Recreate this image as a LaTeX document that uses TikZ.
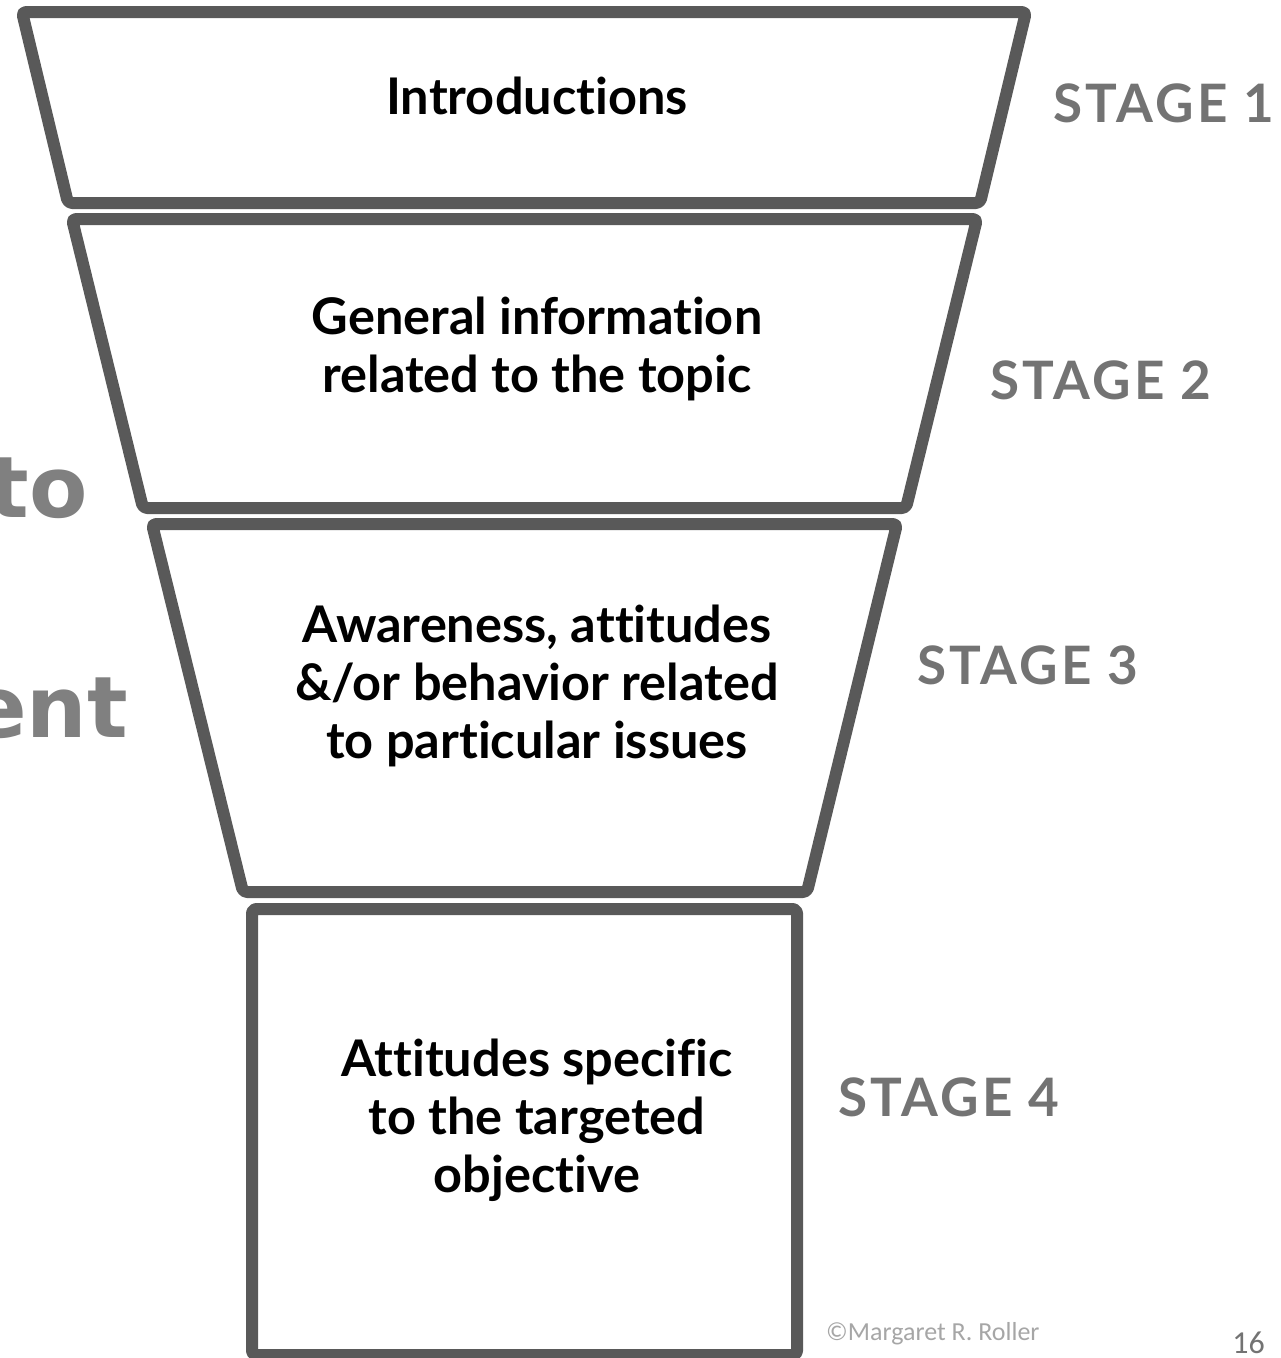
\documentclass[tikz,border=0pt]{standalone}
\usepackage{fontspec}
\setmainfont{Lato}[Ligatures=NoCommon]
\newfontfamily\stagefont{Lato}[Ligatures=NoCommon, LetterSpace=6]
\newfontfamily\sidefont{DejaVu Sans}
\newfontfamily\notefont{Carlito}
\usepackage{tikz}
\definecolor{funnelgray}{HTML}{595959}
\definecolor{stagegray}{HTML}{737373}
\definecolor{sidegray}{HTML}{808080}
\definecolor{notegray}{HTML}{A6A6A6}

\begin{document}
\begin{tikzpicture}[x=1pt, y=-1pt,
  funnel/.style={draw=funnelgray, line width=12pt, rounded corners=4pt, line join=round},
  steptext/.style={align=center, inner sep=0pt, font=\bfseries\fontsize{50.5}{58}\selectfont},
  stagelabel/.style={anchor=west, inner sep=0pt, text=stagegray, font=\stagefont\bfseries\fontsize{53}{60}\selectfont},
  sidetext/.style={anchor=base east, inner sep=0pt, text=sidegray, font=\sidefont\bfseries\fontsize{85}{90}\selectfont}
]
\useasboundingbox (0,0) rectangle (1281,1358);
\clip (0,0) rectangle (1281,1358);

% Funnel, top to bottom
\draw[funnel] (22,12) -- (1026,12) -- (980,203) -- (68,203) -- cycle;
\draw[funnel] (72,219) -- (977,219) -- (906,508) -- (143,508) -- cycle;
\draw[funnel] (152,524) -- (897,524) -- (807,892) -- (243,892) -- cycle;
\draw[funnel] (252,909) -- (797,909) -- (797,1355) -- (252,1355) -- cycle;

% Contents
\node[steptext] (intro) at (537,96) {Introductions};
\node[steptext] (general) at (537,349) {General information\\related to the topic};
\node[steptext] (issues) at (537,686) {Awareness, attitudes\\\&/or behavior related\\to particular issues};
\node[steptext] (specific) at (537,1120) {Attitudes specific\\to the targeted\\objective};

% Stage labels
\node[stagelabel] (stage1) at (1053,103) {STAGE 1};
\node[stagelabel] (stage2) at (990,380) {STAGE 2};
\node[stagelabel] (stage3) at (917,665) {STAGE 3};
\node[stagelabel] (stage4) at (838,1097) {STAGE 4};

% Cut-off text on the left
\node[sidetext] (sideto) at (88,517) {to};
\node[sidetext] (sideent) at (128,737) {ent};

% Footer
\node[anchor=base west, inner sep=0pt, text=notegray, font=\notefont\fontsize{26}{30}\selectfont] (copy) at (826,1340) {©Margaret R. Roller};
\node[anchor=base east, inner sep=0pt, text=stagegray, font=\notefont\fontsize{32}{36}\selectfont] (page) at (1265,1353) {16};

\end{tikzpicture}
\end{document}
